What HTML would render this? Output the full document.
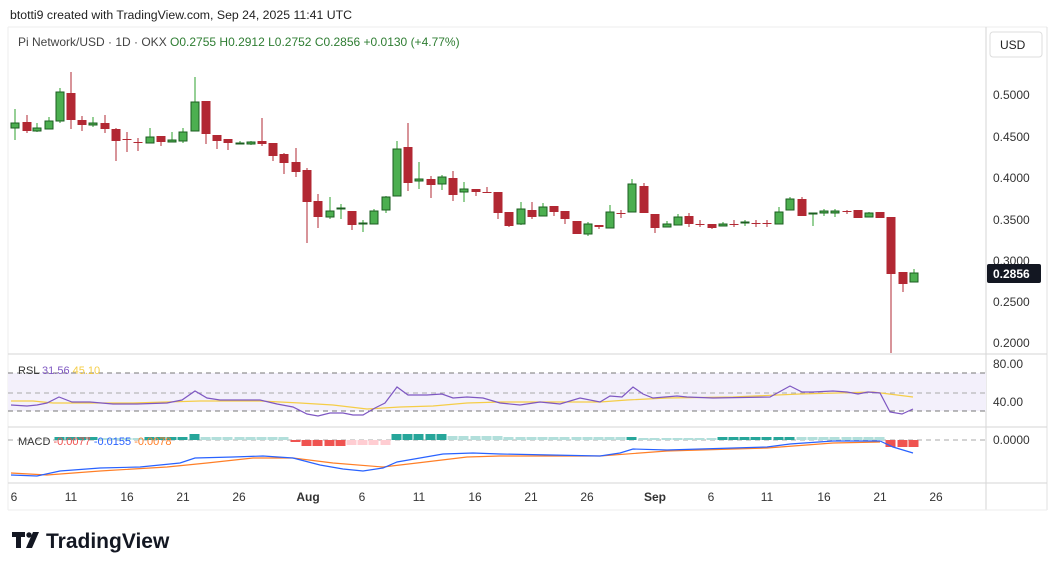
<!DOCTYPE html>
<html><head><meta charset="utf-8"><style>
body{margin:0;background:#fff;width:1057px;height:571px;overflow:hidden;font-family:"Liberation Sans",sans-serif}
svg{position:absolute;left:0;top:0}
</style></head><body>
<svg id="s" width="1057" height="571" xmlns="http://www.w3.org/2000/svg" font-family="Liberation Sans, sans-serif">
<rect x="0" y="0" width="1057" height="571" fill="#fff"/>
<text x="10" y="19" font-size="12.3" fill="#222">btotti9 created with TradingView.com, Sep 24, 2025 11:41 UTC</text>
<line x1="8" y1="27" x2="1047" y2="27" stroke="#eee"/>
<line x1="8" y1="27" x2="8" y2="510" stroke="#eee"/>
<line x1="1047" y1="27" x2="1047" y2="510" stroke="#e0e0e0"/>
<line x1="986" y1="27" x2="986" y2="510" stroke="#d6d6d6"/>
<line x1="8" y1="354" x2="1047" y2="354" stroke="#d6d6d6"/>
<line x1="8" y1="427" x2="1047" y2="427" stroke="#d6d6d6"/>
<line x1="8" y1="483" x2="1047" y2="483" stroke="#d6d6d6"/>
<line x1="8" y1="510" x2="1047" y2="510" stroke="#eee"/>
<text x="18" y="46" font-size="12" fill="#444">Pi Network/USD · 1D · OKX <tspan fill="#2e7d32">  O0.2755  H0.2912  L0.2752  C0.2856  +0.0130 (+4.77%)</tspan></text>
<rect x="990" y="32" width="52" height="25" rx="3" fill="#fff" stroke="#ddd"/>
<text x="1000" y="49" font-size="12" fill="#222">USD</text>
<g font-size="12" fill="#333">
<text x="993" y="99">0.5000</text><text x="993" y="141">0.4500</text><text x="993" y="182">0.4000</text>
<text x="993" y="224">0.3500</text><text x="993" y="265">0.3000</text><text x="993" y="306">0.2500</text>
<text x="993" y="347">0.2000</text>
<text x="993" y="368">80.00</text><text x="993" y="406">40.00</text><text x="993" y="444">0.0000</text>
</g>
<rect x="987" y="264" width="54" height="19" rx="2" fill="#131722"/>
<text x="993" y="278" font-size="12" font-weight="bold" fill="#fff">0.2856</text>
<rect x="8" y="373" width="978" height="38" fill="#f3f0fb"/>
<line x1="8" y1="373" x2="986" y2="373" stroke="#777" stroke-dasharray="5,4"/>
<line x1="8" y1="393" x2="986" y2="393" stroke="#aaa" stroke-dasharray="5,4"/>
<line x1="8" y1="411" x2="986" y2="411" stroke="#777" stroke-dasharray="5,4"/>
<line x1="8" y1="440" x2="986" y2="440" stroke="#aaa" stroke-dasharray="5,4"/>
<polyline fill="none" stroke="#f5cd47" stroke-width="1.2" points="11,401 33,401 53,403 133,403 200,401 260,401 300,403 333,405 367,409 400,407 433,406 467,403 500,402 560,402 600,402 627,400 667,398 733,397 800,394 873,392 913,397"/>
<polyline fill="none" stroke="#7e57c2" stroke-width="1.2" points="11,405 27,406 37,405 47,403 59,397 72,402 90,402 113,404 137,404 167,403 182,400 195,391 207,398 220,400 260,400 277,404 293,407 307,414 318,416 330,413 343,413 353,415 363,415 375,408 385,403 397,387 408,395 427,395 442,394 453,398 467,397 483,398 500,403 520,405 540,402 560,404 580,398 600,402 610,396 622,397 633,387 643,394 653,398 677,396 687,397 713,398 770,397 790,386 802,392 813,392 833,391 847,392 858,394 868,392 880,393 890,412 902,414 913,409"/>
<text x="18" y="374" font-size="11" fill="#333">RSL <tspan fill="#7e57c2">31.56</tspan> <tspan fill="#f5cd47">45.10</tspan></text>
<g id="hist"></g>
<polyline fill="none" stroke="#ff7f27" stroke-width="1.2" points="11,473 47,475 100,471 167,467 207,463 253,458 293,458 333,463 383,467 417,463 467,457 500,456 600,456 667,451 767,448 833,443 880,442"/>
<polyline fill="none" stroke="#2962ff" stroke-width="1.2" points="11,475 37,476 60,471 100,468 140,467 180,463 195,458 233,457 263,456 293,458 320,465 343,469 363,471 383,468 397,462 420,458 443,454 473,453 500,454 600,456 620,453 633,449 667,450 767,447 790,444 833,441 880,441 893,447 903,450 913,453"/>
<text x="18" y="445" font-size="11" fill="#333">MACD <tspan fill="#ef5350">-0.0077</tspan> <tspan fill="#2962ff">-0.0155</tspan> <tspan fill="#ff7f27">-0.0078</tspan></text>
<g id="c"></g>
<g font-size="12" fill="#333" text-anchor="middle">
<text x="14" y="501">6</text><text x="71" y="501">11</text><text x="127" y="501">16</text><text x="183" y="501">21</text><text x="239" y="501">26</text>
<text x="308" y="501" font-weight="bold">Aug</text><text x="362" y="501">6</text><text x="419" y="501">11</text><text x="475" y="501">16</text><text x="531" y="501">21</text><text x="587" y="501">26</text>
<text x="655" y="501" font-weight="bold">Sep</text><text x="711" y="501">6</text><text x="767" y="501">11</text><text x="824" y="501">16</text><text x="880" y="501">21</text><text x="936" y="501">26</text>
</g>
<g fill="#131722"><rect x="12" y="532" width="13" height="5"/><rect x="16" y="532" width="5" height="16"/><circle cx="29" cy="535" r="2.7"/><polygon points="33,532 39,532 32,548 26,548"/></g>
<text x="46" y="548" font-size="21" font-weight="bold" fill="#131722">TradingView</text>
</svg>
<script>
var g='g',r='r';
var C=[[15,123,128,109,140,g],[27,122,131,115,133,r],[37,128,131,123,132,g],[49,121,129,117,129,g],[60,92,121,88,123,g],[71,93,120,72,129,r],[82,120,125,116,131,r],[93,123,125,117,127,g],[105,123,129,115,133,r],[116,129,141,128,161,r],[127,139,140,132,152,r],[138,142,143,138,151,r],[150,137,143,128,143,g],[161,136,142,136,146,r],[172,140,142,132,142,g],[183,132,141,128,143,g],[195,102,131,77,131,g],[206,101,134,101,144,r],[217,135,141,135,149,r],[228,139,143,139,150,r],[240,143,144,141,144,g],[251,142,144,141,145,g],[262,141,144,118,146,r],[273,143,156,143,161,r],[284,154,163,153,174,r],[296,162,172,148,177,r],[307,170,202,168,243,r],[318,201,217,194,228,r],[330,211,217,197,219,g],[341,208,209,204,219,g],[352,211,225,211,230,r],[363,223,224,220,232,g],[374,211,224,209,224,g],[386,197,210,196,213,g],[397,149,196,141,196,g],[408,147,183,123,191,r],[419,179,181,162,189,g],[431,179,185,176,198,r],[442,177,184,175,190,g],[453,178,195,171,201,r],[464,189,192,182,202,g],[476,189,192,189,196,r],[487,192,193,187,193,r],[498,192,213,192,219,r],[509,212,226,212,227,r],[521,209,224,202,225,g],[532,210,217,202,219,r],[543,207,216,203,216,g],[554,206,212,206,216,r],[565,211,219,211,224,r],[577,221,234,221,234,r],[588,224,234,222,236,g],[599,225,227,225,229,r],[610,212,228,205,228,g],[621,213,214,210,218,r],[632,184,212,179,212,g],[644,186,213,183,213,r],[655,214,228,214,233,r],[667,224,227,221,227,g],[678,217,225,214,225,g],[689,216,224,213,227,r],[700,224,225,220,227,r],[712,224,228,224,229,r],[723,224,226,222,226,g],[734,224,225,220,227,r],[745,222,223,220,226,g],[756,223,224,220,227,r],[767,223,224,220,227,r],[779,212,224,207,224,g],[790,199,210,197,210,g],[802,199,216,197,216,r],[813,213,214,213,226,g],[824,211,213,209,216,g],[835,211,213,209,217,g],[847,211,212,210,214,r],[858,210,218,210,218,r],[869,213,217,212,217,g],[880,212,218,212,218,r],[891,217,274,217,353,r],[903,272,284,272,292,r],[914,273,282,269,282,g]];
var h='';
C.forEach(function(c){var x=c[0],gr=c[5]=='g';var wc=gr?'#2ea12e':'#b22833';
h+='<line x1="'+x+'" y1="'+c[3]+'" x2="'+x+'" y2="'+c[4]+'" stroke="'+wc+'" stroke-width="1"/>';
var hh=Math.max(c[2]-c[1],1);
if(gr)h+='<rect x="'+(x-4)+'" y="'+c[1]+'" width="8" height="'+hh+'" fill="#4caf50" stroke="#1b5e20" stroke-width="1"/>';
else h+='<rect x="'+(x-4.5)+'" y="'+c[1]+'" width="9" height="'+hh+'" fill="#b22833"/>';});
document.getElementById('c').innerHTML=h;
var H='';
C.forEach(function(c){var x=c[0];if(x<50)return;var top,bot,col;
if(x<100){top=437;bot=440;col='#26a69a';}
else if(x<140){top=438;bot=440;col='#b2dfdb';}
else if(x<190){top=437;bot=440;col='#26a69a';}
else if(x<200){top=434;bot=440;col='#26a69a';}
else if(x<295){top=437;bot=440;col='#b2dfdb';}
else if(x<305){top=440;bot=442;col='#ef5350';}
else if(x<345){top=440;bot=446;col='#ef5350';}
else if(x<390){top=440;bot=445;col='#ffcdd2';}
else if(x<445){top=434;bot=440;col='#26a69a';}
else if(x<505){top=436;bot=440;col='#b2dfdb';}
else if(x<640){top=437;bot=440;col=(x>625?'#26a69a':'#b2dfdb');}
else if(x<720){top=438;bot=440;col='#b2dfdb';}
else if(x<795){top=437;bot=440;col='#26a69a';}
else if(x<885){top=437;bot=440;col='#b2dfdb';}
else {top=440;bot=447;col='#ef5350';}
H+='<rect x="'+(x-5.5)+'" y="'+top+'" width="10" height="'+(bot-top)+'" fill="'+col+'"/>';});
document.getElementById('hist').innerHTML=H;
</script>
</body></html>
